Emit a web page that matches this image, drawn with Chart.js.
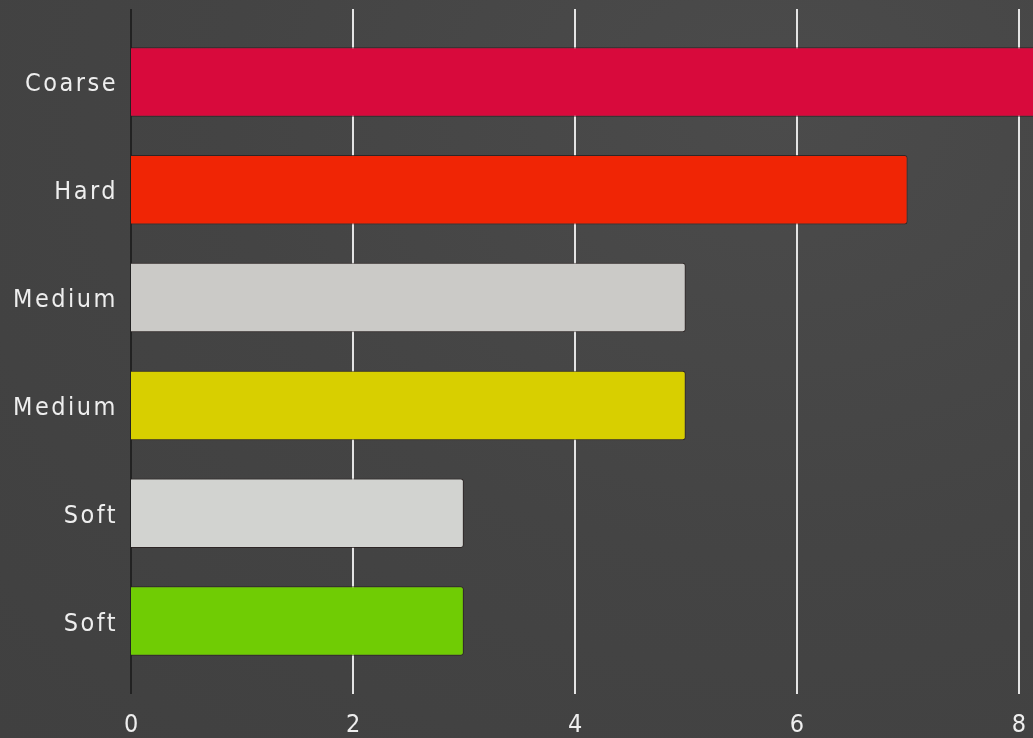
<!DOCTYPE html>
<html>
<head>
<meta charset="utf-8">
<script src="https://cdn.jsdelivr.net/npm/chart.js@4/dist/chart.umd.min.js"></script>
<style>
html,body{margin:0;padding:0;background:#444444;}
#wrap{width:1033px;height:738px;position:relative;background:radial-gradient(ellipse at 75% 15%, #4b4b4b 0%, #444444 50%, #404040 100%);}
</style>
</head>
<body>
<div id="wrap"><canvas id="c" width="1033" height="738"></canvas></div>
<script>
const categories = ["Coarse", "Hard", "Medium", "Medium", "Soft", "Soft"];
const values = [8.5, 7, 5, 5, 3, 3];
const barColors = ["#d80a3c", "#f02505", "#cbcac7", "#d8cf00", "#d2d3d0", "#70cc04"];
const xTicks = [0, 2, 4, 6, 8];

const gridPlugin = {
  id: 'gridPlugin',
  beforeDraw(chart) {
    chart.ctx.letterSpacing = '2.5px';
  },
  beforeDatasetsDraw(chart) {
    const ctx = chart.ctx, xs = chart.scales.x, a = chart.chartArea;
    ctx.save();
    xTicks.forEach(v => {
      if (v === 0) return;
      const px = Math.round(xs.getPixelForValue(v));
      ctx.strokeStyle = '#e4e4e4';
      ctx.lineWidth = 2;
      ctx.beginPath();
      ctx.moveTo(px, a.top - 19);
      ctx.lineTo(px, a.bottom + 19);
      ctx.stroke();
    });
    const p0 = Math.round(xs.getPixelForValue(0));
    ctx.strokeStyle = '#222222';
    ctx.lineWidth = 2;
    ctx.beginPath();
    ctx.moveTo(p0, a.top - 19);
    ctx.lineTo(p0, a.bottom + 19);
    ctx.stroke();
    ctx.restore();
  }
};

new Chart(document.getElementById('c'), {
  type: 'bar',
  data: {
    labels: categories,
    datasets: [{
      data: values,
      backgroundColor: barColors,
      borderColor: 'rgba(40,30,30,0.8)',
      borderWidth: 1,
      borderRadius: {topLeft: 0, bottomLeft: 0, topRight: 3, bottomRight: 3},
      borderSkipped: 'start',
      barPercentage: 0.645,
      categoryPercentage: 1.0
    }]
  },
  options: {
    indexAxis: 'y',
    responsive: false,
    animation: false,
    layout: {padding: {top: 28, right: 0, left: 0, bottom: 0}},
    plugins: {legend: {display: false}, tooltip: {enabled: false}},
    scales: {
      x: {
        min: 0, max: 8.13,
        afterBuildTicks(s) { s.ticks = xTicks.map(v => ({value: v})); },
        afterFit(s) { s.height = 63; s.paddingLeft = 0; s.paddingRight = 0; },
        grid: {display: false, drawTicks: false},
        border: {display: false},
        ticks: {color: '#eeeeee', font: {family: 'DejaVu Sans Condensed', size: 25}, padding: 35, labelOffset: 1.5, maxRotation: 0, autoSkip: false}
      },
      y: {
        afterFit(s) { s.width = 131; s.paddingTop = 0; s.paddingBottom = 0; },
        grid: {display: false, drawTicks: false},
        border: {display: false},
        ticks: {color: '#eeeeee', font: {family: 'DejaVu Sans Condensed', size: 25}, padding: 13, labelOffset: 3}
      }
    }
  },
  plugins: [gridPlugin]
});
</script>
</body>
</html>
